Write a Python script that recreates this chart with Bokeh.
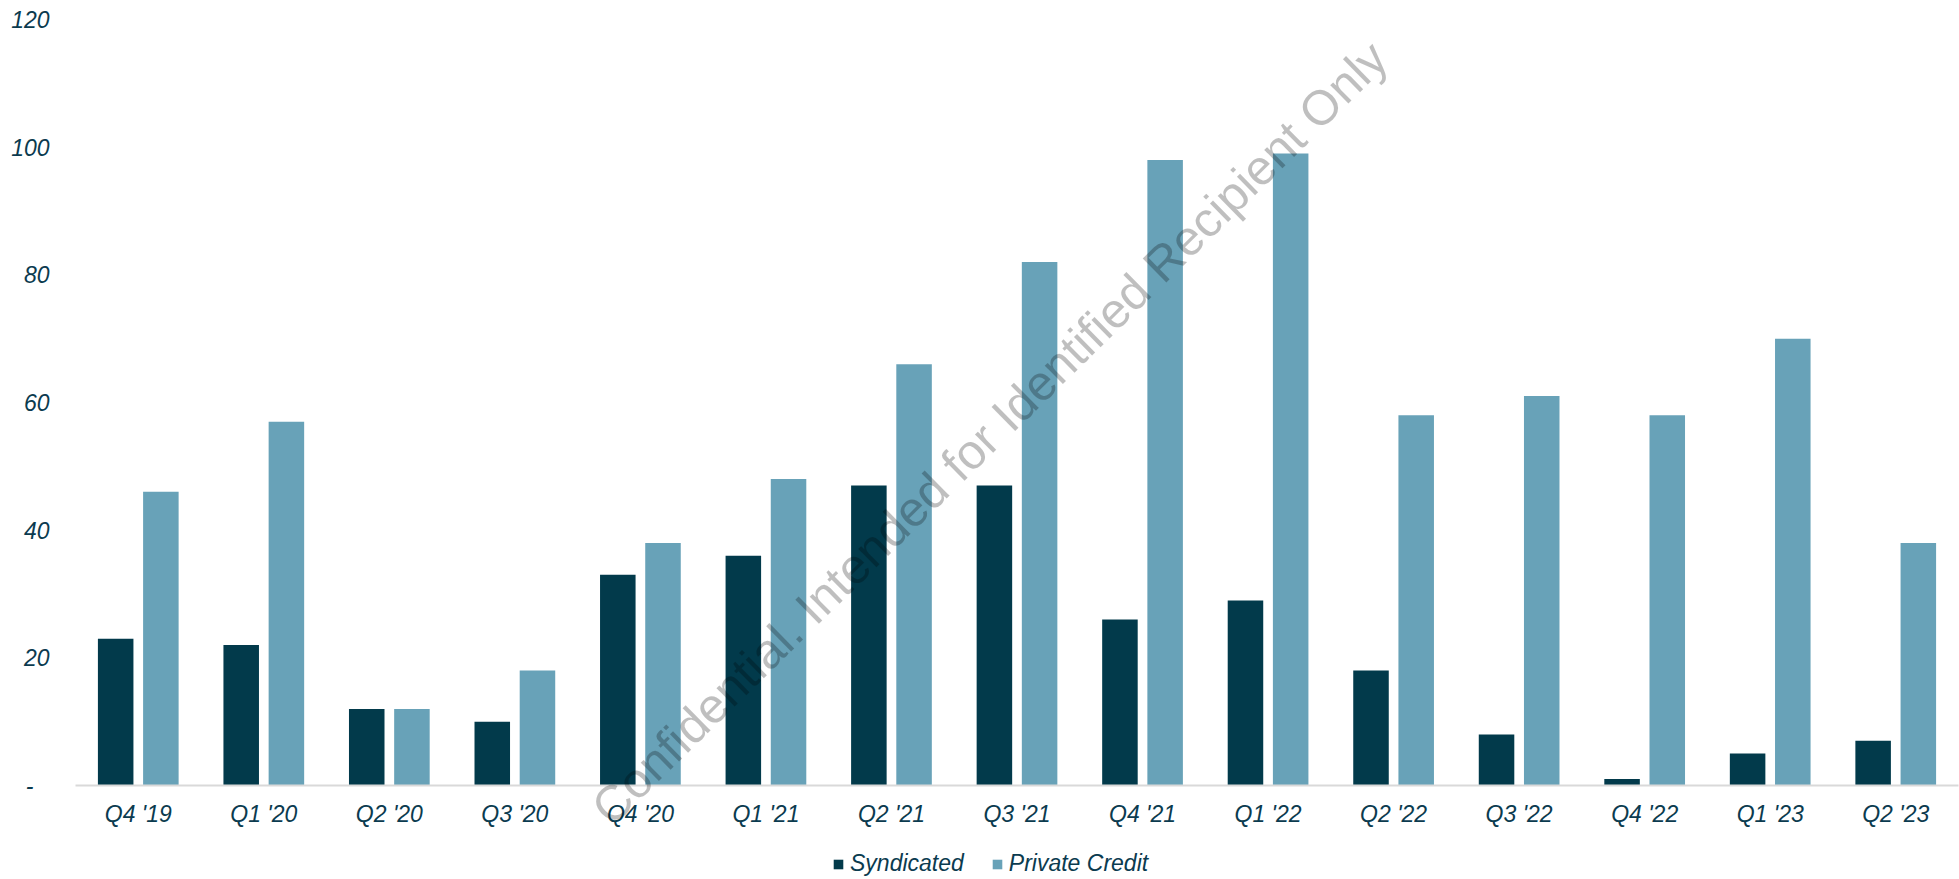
from bokeh.plotting import figure
from bokeh.models import (Range1d, Legend, LegendItem, Label, ColumnDataSource)
from bokeh.core.properties import value
from bokeh.transform import dodge
from bokeh.embed import file_html
from bokeh.resources import INLINE

quarters = ["Q4 '19", "Q1 '20", "Q2 '20", "Q3 '20", "Q4 '20", "Q1 '21", "Q2 '21",
            "Q3 '21", "Q4 '21", "Q1 '22", "Q2 '22", "Q3 '22", "Q4 '22", "Q1 '23", "Q2 '23"]
syndicated = [23, 22, 12, 10, 33, 36, 47, 47, 26, 29, 18, 8, 1, 5, 7]
private_credit = [46, 57, 12, 18, 38, 48, 66, 82, 98, 99, 58, 61, 58, 70, 38]
y_ticks = [0, 20, 40, 60, 80, 100, 120]
y_tick_labels = ["-\u2002\u2009", "20", "40", "60", "80", "100", "120"]
series_names = ["Syndicated", "Private Credit"]
watermark = "Confidential. Intended for Identified Recipient Only"

DARK = "#023a4b"
LIGHT = "#68a2b8"
TEXT = "#0b3b4f"
FONT = "Liberation Sans"
FS = "23px"

# page geometry (pixels)
W, H = 1959, 879
LEFT, RIGHT = 75, 1          # margins left/right of the category band
TOP, BOTTOM = 19, 94         # y=120 sits TOP px below the top, y=0 sits BOTTOM px above the bottom
Y_MAX = 120

n = len(quarters)
cat_px = (W - LEFT - RIGHT) / n
y_per_px = Y_MAX / (H - TOP - BOTTOM)
x_lo = -0.5 - LEFT / cat_px
x_hi = n - 0.5 + RIGHT / cat_px
y_lo = -BOTTOM * y_per_px
y_hi = Y_MAX + TOP * y_per_px

idx = list(range(n))
src = ColumnDataSource(dict(i=idx, q=quarters, s=syndicated, pc=private_credit,
                            zero=[0] * n))
ysrc = ColumnDataSource(dict(v=y_ticks, lab=y_tick_labels, x=[x_lo] * len(y_ticks)))

p = figure(width=W, height=H, output_backend="svg", toolbar_location=None,
           x_range=Range1d(x_lo, x_hi), y_range=Range1d(y_lo, y_hi),
           x_axis_location=None, y_axis_location=None,
           min_border=0, min_border_left=0, min_border_right=0,
           min_border_top=0, min_border_bottom=0)
p.outline_line_color = None
p.background_fill_color = "white"
p.border_fill_color = "white"
p.grid.visible = False

r1 = p.vbar(x=dodge("i", -0.18), top="s", width=0.283, source=src,
            fill_color=DARK, line_color=None)
r2 = p.vbar(x=dodge("i", 0.18), top="pc", width=0.283, source=src,
            fill_color=LIGHT, line_color=None)

# category axis line
p.segment(x0=-0.5, x1=n - 0.5, y0=0, y1=0, line_color="#d9d9d9", line_width=2)

# category tick labels
p.text(x="i", y="zero", text="q", source=src, y_offset=28,
       text_align="center", text_baseline="middle",
       text_font=value(FONT), text_font_style="italic", text_font_size=FS,
       text_color=TEXT)

# value tick labels
p.text(x="x", y="v", text="lab", source=ysrc, x_offset=49,
       text_align="right", text_baseline="middle",
       text_font=value(FONT), text_font_style="italic", text_font_size=FS,
       text_color=TEXT)

legend = Legend(items=[LegendItem(label=series_names[0], renderers=[r1]),
                       LegendItem(label=series_names[1], renderers=[r2])],
                orientation="horizontal", location=(832, 2),
                glyph_width=12, glyph_height=12, label_standoff=6, spacing=27,
                padding=0, margin=0, border_line_color=None,
                background_fill_alpha=0,
                label_text_font=FONT, label_text_font_style="italic",
                label_text_font_size=FS, label_text_color=TEXT)
p.add_layout(legend, "center")

wm = Label(x=989, y=447, x_units="screen", y_units="screen", text=watermark,
           angle=44.5, angle_units="deg", text_align="center", text_baseline="middle",
           text_font=FONT, text_font_size="49px", text_color="#000000", text_alpha=0.25)
p.add_layout(wm)

open("out.html", "w").write(file_html(p, INLINE))
